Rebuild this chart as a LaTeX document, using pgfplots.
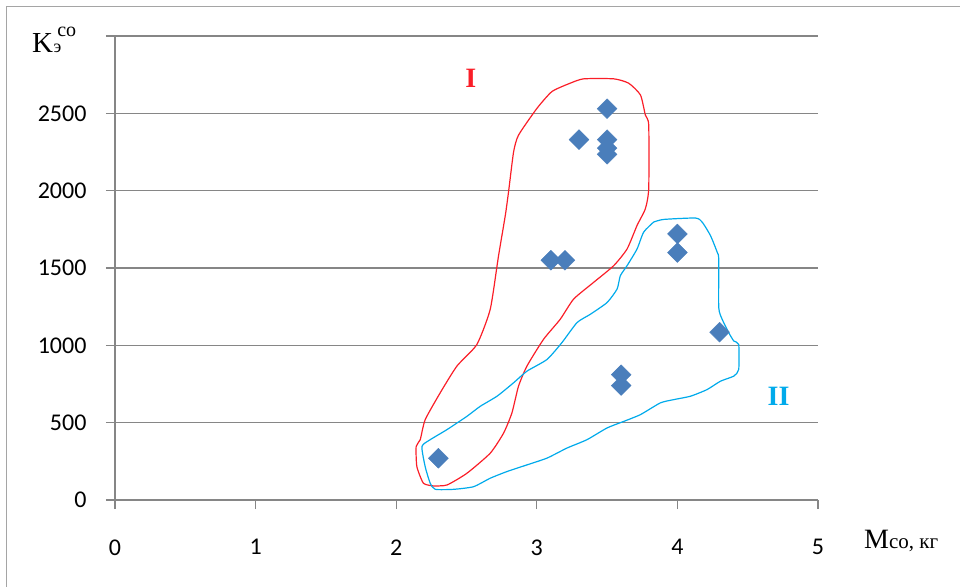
\documentclass[border=0pt]{standalone}
\usepackage{fontspec}
\setmainfont{Liberation Serif}
\newfontfamily\calibri{Carlito}
\usepackage{pgfplots}
\pgfplotsset{compat=1.18}
\definecolor{gridgray}{RGB}{134,134,134}
\definecolor{framegray}{RGB}{165,165,165}
\definecolor{markblue}{RGB}{74,126,187}
\definecolor{zonered}{RGB}{250,30,40}
\definecolor{zoneblue}{RGB}{0,170,235}

\begin{document}
\begin{tikzpicture}[x=1pt,y=1pt]
\useasboundingbox (0,0) rectangle (960,586);
\draw[framegray, line width=1.5pt] (6.5,-20) -- (6.5,579.5) -- (980,579.5);
\begin{axis}[
  at={(115pt,86pt)}, anchor=south west,
  scale only axis, width=703pt, height=464pt,
  xmin=0, xmax=5, ymin=0, ymax=3000,
  axis lines=left, axis line style={-, gridgray, line width=1.3pt},
  xtick={0,1,...,5}, ytick={0,500,...,3000},
  yticklabels={0,500,1000,1500,2000,2500,{}},
  tick align=outside, major tick length=9pt,
  tick style={gridgray, line width=1.3pt},
  ymajorgrids, grid style={gridgray, line width=1.3pt},
  ticklabel style={font=\calibri\fontsize{24}{24}\selectfont},
  /pgf/number format/assume math mode=true,
  /pgf/number format/1000 sep={},
  xticklabel style={yshift=-27pt},
  yticklabel style={xshift=-16pt},
  clip=false,
]
% measured points
\addplot[only marks, mark=square*, mark size=7pt,
  mark options={rotate=45, fill=markblue, draw=markblue}] coordinates {
  (2.3,270) (3.1,1550) (3.2,1550) (3.3,2330) (3.5,2530) (3.5,2330)
  (3.5,2275) (3.5,2235) (3.6,810) (3.6,740) (4.0,1720) (4.0,1600) (4.3,1085)
};
% zone I
\addplot[zonered, line width=1.2pt, smooth, tension=0.35] coordinates {
  (2.265,91) (2.361,97) (2.503,173) (2.669,303) (2.764,433) (2.823,563)
  (2.870,736) (2.930,866) (3.048,1039) (3.167,1169) (3.262,1299) (3.404,1407)
  (3.547,1515) (3.642,1623) (3.713,1775) (3.772,1883) (3.796,2013) (3.796,2424)
  (3.772,2489) (3.737,2619) (3.653,2695) (3.547,2723) (3.333,2723) (3.238,2695)
  (3.108,2641) (3.001,2532) (2.870,2359) (2.835,2251) (2.799,1992) (2.776,1840)
  (2.728,1580) (2.669,1234) (2.574,1006) (2.432,866) (2.313,693) (2.206,519)
  (2.171,390) (2.142,346) (2.147,216) (2.194,108) (2.265,91)
};
% zone II
\addplot[zoneblue, line width=1.2pt, smooth, tension=0.35] coordinates {
  (3.831,1797) (3.902,1814) (4.128,1823) (4.176,1797) (4.235,1710) (4.283,1602)
  (4.294,1558) (4.294,1245) (4.318,1169) (4.365,1082) (4.401,1028) (4.436,1006)
  (4.436,844) (4.401,801) (4.306,768) (4.211,714) (4.093,671) (3.974,649)
  (3.879,628) (3.737,552) (3.618,508) (3.500,466) (3.357,390) (3.215,336)
  (3.073,271) (2.930,227) (2.788,184) (2.669,141) (2.550,86) (2.408,69)
  (2.278,69) (2.242,108) (2.206,216) (2.183,346) (2.242,390) (2.361,455)
  (2.503,541) (2.598,606) (2.717,671) (2.835,758) (2.930,833) (3.073,909)
  (3.179,1018) (3.286,1147) (3.381,1201) (3.500,1277) (3.571,1364) (3.594,1450)
  (3.642,1515) (3.713,1623) (3.760,1732) (3.831,1797)
};
\node[text=zonered, font=\bfseries\fontsize{28}{28}\selectfont] at (axis cs:2.53,2727) {I};
\node[text=zoneblue, font=\bfseries\fontsize{28}{28}\selectfont] at (axis cs:4.72,669) {II};
\end{axis}
% axis titles
\node[anchor=base west, inner sep=0pt] at (32,533)
  {\fontsize{29}{29}\selectfont K\kern0.5pt{\fontsize{18}{18}\selectfont э}\kern-4pt\raisebox{16pt}{\fontsize{20}{20}\selectfont со}};
\node[anchor=base west, inner sep=0pt] at (864,38)
  {\fontsize{28}{28}\selectfont M{\fontsize{21}{21}\selectfont со, кг}};
\end{tikzpicture}
\end{document}
